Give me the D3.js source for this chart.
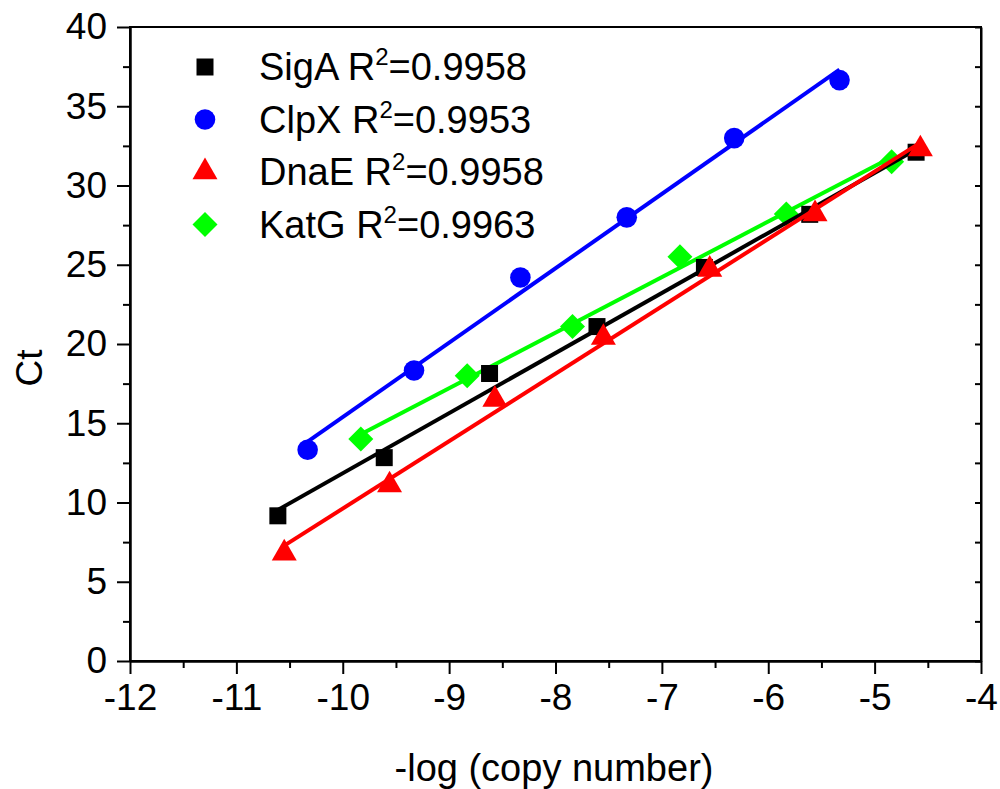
<!DOCTYPE html>
<html>
<head>
<meta charset="utf-8">
<script src="https://cdn.jsdelivr.net/npm/d3@7"></script>
<style>
    body { margin: 0; background: #fff; }
    svg text { font-family: "Liberation Sans", Arial, sans-serif; fill: #000; }
    .axis path, .axis line { stroke: #000; stroke-width: 2px; }
</style>
</head>
<body>
<div id="chart"></div>
<script>
// data
const seriesNames = ["SigA", "ClpX", "DnaE", "KatG"];
const rSquared = ["0.9958", "0.9953", "0.9958", "0.9963"];
const seriesColors = ["#000000", "#0000ff", "#ff0000", "#00ff00"];

const sigaX = [-10.61, -9.61, -8.62, -7.61, -6.60, -5.61, -4.61];
const sigaY = [9.16, 12.83, 18.14, 21.1, 24.83, 28.18, 32.1];
const clpxX = [-10.33, -9.33, -8.33, -7.33, -6.32, -5.33];
const clpxY = [13.33, 18.33, 24.2, 27.99, 32.99, 36.65];
const dnaeX = [-10.55, -9.56, -8.57, -7.55, -6.55, -5.56, -4.57];
const dnaeY = [6.8, 11.1, 16.5, 20.4, 24.7, 28.2, 32.3];
const katgX = [-9.83, -8.83, -7.84, -6.83, -5.83, -4.84];
const katgY = [14.0, 18.0, 21.1, 25.5, 28.2, 31.5];

const xTickValues = [-12, -11, -10, -9, -8, -7, -6, -5, -4];
const xMinorValues = [-11.5, -10.5, -9.5, -8.5, -7.5, -6.5, -5.5, -4.5];
const yTickValues = [0, 5, 10, 15, 20, 25, 30, 35, 40];
const yMinorValues = [2.5, 7.5, 12.5, 17.5, 22.5, 27.5, 32.5, 37.5];

const width = 1000, height = 789;

let svg = d3.select("#chart").append("svg")
    .attr("width", width)
    .attr("height", height);

// scales
let x = d3.scaleLinear().domain([-12, -4]).range([130, 981]);
let y = d3.scaleLinear().domain([0, 40]).range([661, 27]);

// frame (top + right lines)
svg.append("rect")
    .attr("x", x(-12)).attr("y", y(40))
    .attr("width", x(-4) - x(-12)).attr("height", y(0) - y(40))
    .attr("fill", "none").attr("stroke", "#000").attr("stroke-width", 2);

// bottom axis
svg.append("g").attr("class", "axis")
    .attr("transform", "translate(0," + y(0) + ")")
    .call(d3.axisBottom(x).tickValues(xMinorValues).tickSize(7).tickFormat("").tickSizeOuter(0));
svg.append("g").attr("class", "axis x-axis")
    .attr("transform", "translate(0," + y(0) + ")")
    .call(d3.axisBottom(x).tickValues(xTickValues).tickSize(13).tickPadding(10).tickSizeOuter(0)
        .tickFormat(d => d3.format("d")(d).replace("−", "-")))
    .selectAll("text").style("font-size", "37px");

// left axis
svg.append("g").attr("class", "axis")
    .attr("transform", "translate(" + x(-12) + ",0)")
    .call(d3.axisLeft(y).tickValues(yMinorValues).tickSize(7).tickFormat("").tickSizeOuter(0));
svg.append("g").attr("class", "axis y-axis")
    .attr("transform", "translate(" + x(-12) + ",0)")
    .call(d3.axisLeft(y).tickValues(yTickValues).tickSize(13).tickPadding(10).tickSizeOuter(0))
    .selectAll("text").style("font-size", "37px");

// right axis: inward ticks, no labels
svg.append("g").attr("class", "axis")
    .attr("transform", "translate(" + x(-4) + ",0)")
    .call(d3.axisLeft(y).tickValues(yTickValues.concat(yMinorValues)).tickSize(6).tickFormat("").tickSizeOuter(0));

// axis titles
svg.append("text")
    .attr("x", 554).attr("y", 781)
    .attr("text-anchor", "middle")
    .style("font-size", "38px")
    .text("-log (copy number)");

svg.append("text")
    .attr("transform", "translate(42,368) rotate(-90)")
    .attr("text-anchor", "middle")
    .style("font-size", "37px")
    .text("Ct");

// markers
const shapes = [
    d3.symbol().type(d3.symbolSquare).size(289),
    d3.symbol().type(d3.symbolCircle).size(333),
    d3.symbol().type(d3.symbolTriangle).size(270),
    d3.symbol().type(d3.symbolSquare).size(312)
];
const rotations = [0, 0, 0, 45];
const allX = [sigaX, clpxX, dnaeX, katgX];
const allY = [sigaY, clpxY, dnaeY, katgY];

// least squares fit line
function fit(xs, ys) {
    let mx = d3.mean(xs), my = d3.mean(ys);
    let b = d3.sum(xs, (v, i) => (v - mx) * (ys[i] - my)) / d3.sum(xs, v => (v - mx) * (v - mx));
    return { slope: b, icpt: my - b * mx };
}

// draw order so overlaps look like the picture
[3, 0, 2, 1].forEach(k => {
    let pts = allX[k].map((v, i) => ({ x: v, y: allY[k][i] }));
    let g = svg.append("g").attr("class", "series-" + seriesNames[k]);

    g.selectAll("path.mark")
        .data(pts)
        .enter().append("path")
        .attr("class", "mark")
        .attr("d", shapes[k])
        .attr("fill", seriesColors[k])
        .attr("transform", d => "translate(" + x(d.x) + "," + y(d.y) + ") rotate(" + rotations[k] + ")");

    let f = fit(allX[k], allY[k]);
    let ext = d3.extent(allX[k]);
    g.append("line")
        .attr("x1", x(ext[0])).attr("y1", y(f.icpt + f.slope * ext[0]))
        .attr("x2", x(ext[1])).attr("y2", y(f.icpt + f.slope * ext[1]))
        .attr("stroke", seriesColors[k])
        .attr("stroke-width", 4);
});

// legend
let legend = svg.append("g").attr("class", "legend");
seriesNames.forEach((name, k) => {
    let cy = 67 + k * 52.5;
    legend.append("path")
        .attr("d", shapes[k])
        .attr("fill", seriesColors[k])
        .attr("transform", "translate(205," + cy + ") rotate(" + rotations[k] + ")");
    let t = legend.append("text")
        .attr("x", 259).attr("y", cy + 13)
        .style("font-size", "38px");
    t.append("tspan").text(name + " R");
    t.append("tspan").attr("dy", -15).style("font-size", "24px").text("2");
    t.append("tspan").attr("dy", 15).text("=" + rSquared[k]);
});
</script>
</body>
</html>
